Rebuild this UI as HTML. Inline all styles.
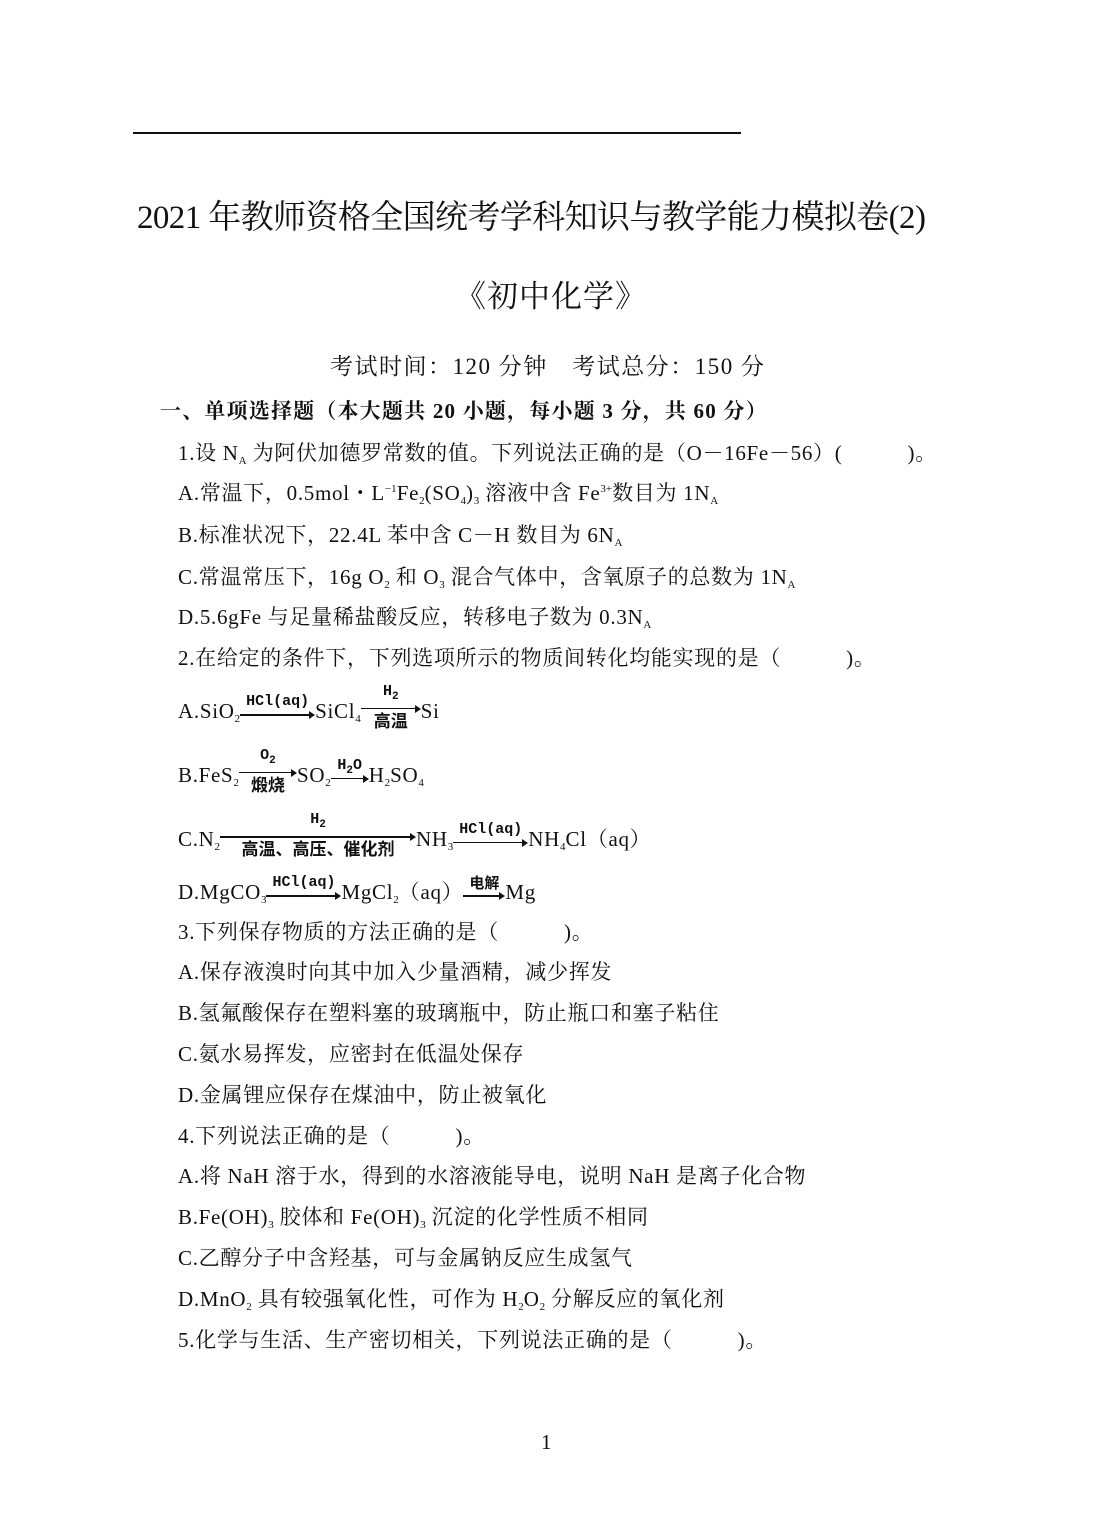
<!DOCTYPE html>
<html><head><meta charset="utf-8">
<style>
html,body{margin:0;padding:0;background:#fff;}
body{width:1093px;height:1536px;position:relative;overflow:hidden;font-family:"Liberation Serif","Noto Serif CJK SC",serif;color:#111;}
.l{position:absolute;white-space:nowrap;font-size:21px;line-height:24px;left:178px;letter-spacing:0.7px;}
sub{font-size:11px;vertical-align:-4px;line-height:0;letter-spacing:0;}
sup{font-size:11px;vertical-align:8px;line-height:0;letter-spacing:0;}
.ar{display:inline-block;position:relative;vertical-align:baseline;height:20px;letter-spacing:0;}
.ar .ln{position:absolute;left:0;right:3px;top:16px;border-top:2px solid #111;}
.ar .hd{position:absolute;right:0;top:13px;width:0;height:0;border-left:6px solid #111;border-top:4px solid transparent;border-bottom:4px solid transparent;}
.ar .t{position:absolute;left:0;right:0;top:-4px;text-align:center;font-family:"Liberation Mono","Noto Sans CJK SC",monospace;font-size:15px;font-weight:bold;line-height:16px;}
.ar .b{position:absolute;left:0;right:0;top:19px;text-align:center;font-family:"Noto Sans CJK SC",sans-serif;font-size:17px;font-weight:bold;line-height:18px;}
.ar .t2{top:-14px;}
</style></head><body>
<div style="position:absolute;left:133px;top:132px;width:608px;border-top:2px solid #111;"></div>
<div class="l" style="left:137px;top:198px;font-size:33px;line-height:40px;letter-spacing:-0.6px;">2021 年教师资格全国统考学科知识与教学能力模拟卷(2)</div>
<div class="l" style="left:455px;top:279px;font-size:31px;line-height:36px;letter-spacing:1px;">《初中化学》</div>
<div class="l" style="left:330px;top:353px;font-size:23px;line-height:28px;letter-spacing:1.5px;">考试时间：120 分钟　考试总分：150 分</div>
<div class="l" style="left:160px;top:399px;font-weight:bold;letter-spacing:1.2px;">一、单项选择题（本大题共 20 小题，每小题 3 分，共 60 分）</div>
<div class="l" style="top:441px;">1.设 N<sub>A</sub> 为阿伏加德罗常数的值。下列说法正确的是（O－16Fe－56）(　　　)。</div>
<div class="l" style="top:481px;">A.常温下，0.5mol・L<sup>−1</sup>Fe<sub>2</sub>(SO<sub>4</sub>)<sub>3</sub> 溶液中含 Fe<sup>3+</sup>数目为 1N<sub>A</sub></div>
<div class="l" style="top:523px;">B.标准状况下，22.4L 苯中含 C－H 数目为 6N<sub>A</sub></div>
<div class="l" style="top:565px;">C.常温常压下，16g O<sub>2</sub> 和 O<sub>3</sub> 混合气体中，含氧原子的总数为 1N<sub>A</sub></div>
<div class="l" style="top:605px;">D.5.6gFe 与足量稀盐酸反应，转移电子数为 0.3N<sub>A</sub></div>
<div class="l" style="top:646px;">2.在给定的条件下，下列选项所示的物质间转化均能实现的是（　　　)。</div>
<div class="l" style="top:698px;">A.SiO<sub>2</sub><span class="ar" style="width:75px"><span class="t">HCl(aq)</span><span class="ln"></span><span class="hd"></span></span>SiCl<sub>4</sub><span class="ar" style="width:60px"><span class="t t2">H<sub>2</sub></span><span class="ln" style="top:10px;border-top-width:1px"></span><span class="hd" style="top:7px"></span><span class="b" style="top:13px">高温</span></span>Si</div>
<div class="l" style="top:762px;">B.FeS<sub>2</sub><span class="ar" style="width:58px"><span class="t t2">O<sub>2</sub></span><span class="ln" style="top:10px;border-top-width:1px"></span><span class="hd" style="top:7px"></span><span class="b" style="top:13px">煅烧</span></span>SO<sub>2</sub><span class="ar" style="width:38px"><span class="t">H<sub>2</sub>O</span><span class="ln" style="border-top-width:1px"></span><span class="hd"></span></span>H<sub>2</sub>SO<sub>4</sub></div>
<div class="l" style="top:826px;">C.N<sub>2</sub><span class="ar" style="width:196px"><span class="t t2">H<sub>2</sub></span><span class="ln" style="top:10px"></span><span class="hd" style="top:7px"></span><span class="b" style="top:13px">高温、高压、催化剂</span></span>NH<sub>3</sub><span class="ar" style="width:75px"><span class="t">HCl(aq)</span><span class="ln" style="border-top-width:1px"></span><span class="hd"></span></span>NH<sub>4</sub>Cl（aq）</div>
<div class="l" style="top:879px;">D.MgCO<sub>3</sub><span class="ar" style="width:75px"><span class="t">HCl(aq)</span><span class="ln"></span><span class="hd"></span></span>MgCl<sub>2</sub>（aq）<span class="ar" style="width:42px"><span class="t" style="font-family:'Noto Sans CJK SC',sans-serif">电解</span><span class="ln"></span><span class="hd"></span></span>Mg</div>
<div class="l" style="top:920px;">3.下列保存物质的方法正确的是（　　　)。</div>
<div class="l" style="top:960px;">A.保存液溴时向其中加入少量酒精，减少挥发</div>
<div class="l" style="top:1001px;">B.氢氟酸保存在塑料塞的玻璃瓶中，防止瓶口和塞子粘住</div>
<div class="l" style="top:1042px;">C.氨水易挥发，应密封在低温处保存</div>
<div class="l" style="top:1083px;">D.金属锂应保存在煤油中，防止被氧化</div>
<div class="l" style="top:1124px;">4.下列说法正确的是（　　　)。</div>
<div class="l" style="top:1164px;">A.将 NaH 溶于水，得到的水溶液能导电，说明 NaH 是离子化合物</div>
<div class="l" style="top:1205px;">B.Fe(OH)<sub>3</sub> 胶体和 Fe(OH)<sub>3</sub> 沉淀的化学性质不相同</div>
<div class="l" style="top:1246px;">C.乙醇分子中含羟基，可与金属钠反应生成氢气</div>
<div class="l" style="top:1287px;">D.MnO<sub>2</sub> 具有较强氧化性，可作为 H<sub>2</sub>O<sub>2</sub> 分解反应的氧化剂</div>
<div class="l" style="top:1328px;">5.化学与生活、生产密切相关，下列说法正确的是（　　　)。</div>
<div class="l" style="left:541px;top:1430px;">1</div>
</body></html>
